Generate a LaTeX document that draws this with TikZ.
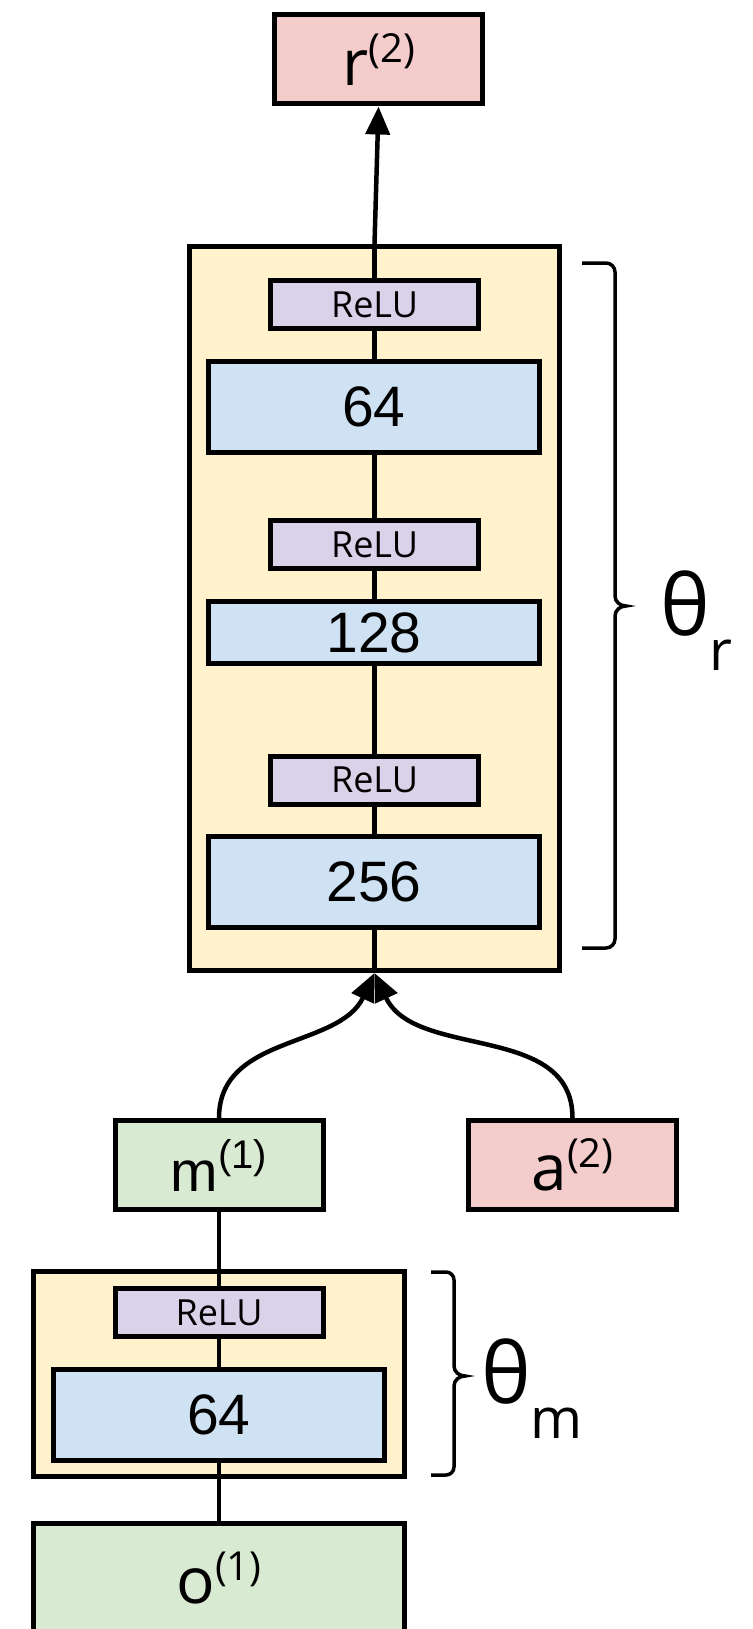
\documentclass[tikz,border=0pt]{standalone}
\usepackage{fontspec}
\setmainfont{Open Sans}
\newfontfamily\arialfont{Liberation Sans}
\usetikzlibrary{arrows.meta}

\definecolor{redbox}{HTML}{F4CCCC}
\definecolor{greenbox}{HTML}{D9EAD3}
\definecolor{bluebox}{HTML}{CFE2F3}
\definecolor{purplebox}{HTML}{D9D2E9}
\definecolor{yellowbox}{HTML}{FFF2CC}

\newcommand{\upidx}[1]{\raisebox{23pt}{\fontsize{40}{40}\selectfont(#1)}}

\tikzset{
  box/.style={draw,line width=5pt,inner sep=0pt},
  layer/.style={box,fill=bluebox,minimum width=331pt,minimum height=91pt,
    font=\arialfont\fontsize{57}{60}\selectfont},
  relu/.style={box,fill=purplebox,minimum width=208pt,minimum height=48pt,
    font=\fontsize{36}{40}\selectfont},
  io/.style={box,minimum width=208pt,minimum height=89pt,
    font=\fontsize{64}{66}\selectfont},
  block/.style={box,fill=yellowbox},
  link/.style={line width=4.5pt},
  flow/.style={link,-{Triangle[length=28pt,width=24pt]}},
  bracket/.style={line width=3.5pt},
  param/.style={anchor=base west,inner sep=0pt,font=\fontsize{84}{88}\selectfont},
}

\begin{document}
\begin{tikzpicture}[x=1pt,y=1pt]
  \clip (0,0) rectangle (752,-1629);
  \useasboundingbox (0,0) rectangle (752,-1629);

  % reward head
  \node[io,fill=redbox] (r) at (378.5,-59.5) {r\upidx{2}};
  \node[block,minimum width=370pt,minimum height=724pt] (fcr) at (374.5,-608.5) {};
  \draw[link] (fcr.south) -- (fcr.north);
  \node[relu] (relu1) at (374.5,-304.5) {ReLU};
  \node[layer] (l64) at (374,-407) {64};
  \node[relu] (relu2) at (374.5,-544.5) {ReLU};
  \node[layer,minimum height=62pt] (l128) at (374,-632.5) {128};
  \node[relu] (relu3) at (374.5,-780) {ReLU};
  \node[layer] (l256) at (374,-882) {256};
  \draw[flow] (fcr.north) -- (r.south);

  % memory head
  \node[io,fill=greenbox,font=\arialfont\fontsize{57}{60}\selectfont] (m) at (219,-1165) {m\upidx{1}};
  \node[io,fill=redbox] (a) at (572.5,-1165) {a\upidx{2}};
  \node[io,fill=greenbox,minimum width=371pt,minimum height=110pt] (o) at (219,-1578) {o\upidx{1}};
  \node[block,minimum width=371pt,minimum height=205pt] (fcm) at (219,-1374) {};
  \draw[link] (m.south) -- (o.north);
  \node[relu] (relu4) at (219,-1312.5) {ReLU};
  \node[layer] (l64m) at (219,-1415) {64};

  \draw[flow] (m.north) to[out=90,in=-115] (fcr.south);
  \draw[flow] (a.north) to[out=90,in=-65] (fcr.south);

  % braces
  \draw[bracket] (582,-263) -- (606,-263) to[out=0,in=90] (615,-272) -- (615,-596)
    to[out=-90,in=180] (626,-606) to[out=180,in=90] (615,-616) -- (615,-939)
    to[out=-90,in=0] (606,-948) -- (582,-948);
  \draw[bracket] (431,-1272) -- (446,-1272) to[out=0,in=90] (454,-1280) -- (454,-1366)
    to[out=-90,in=180] (465,-1376) to[out=180,in=90] (454,-1386) -- (454,-1467)
    to[out=-90,in=0] (446,-1475) -- (431,-1475);
  \node[param] (thr) at (660,-635) {θ\raisebox{-35pt}{\fontsize{56}{60}\selectfont r}};
  \node[param] (thm) at (481,-1403) {θ\raisebox{-35pt}{\fontsize{56}{60}\selectfont m}};
\end{tikzpicture}
\end{document}
